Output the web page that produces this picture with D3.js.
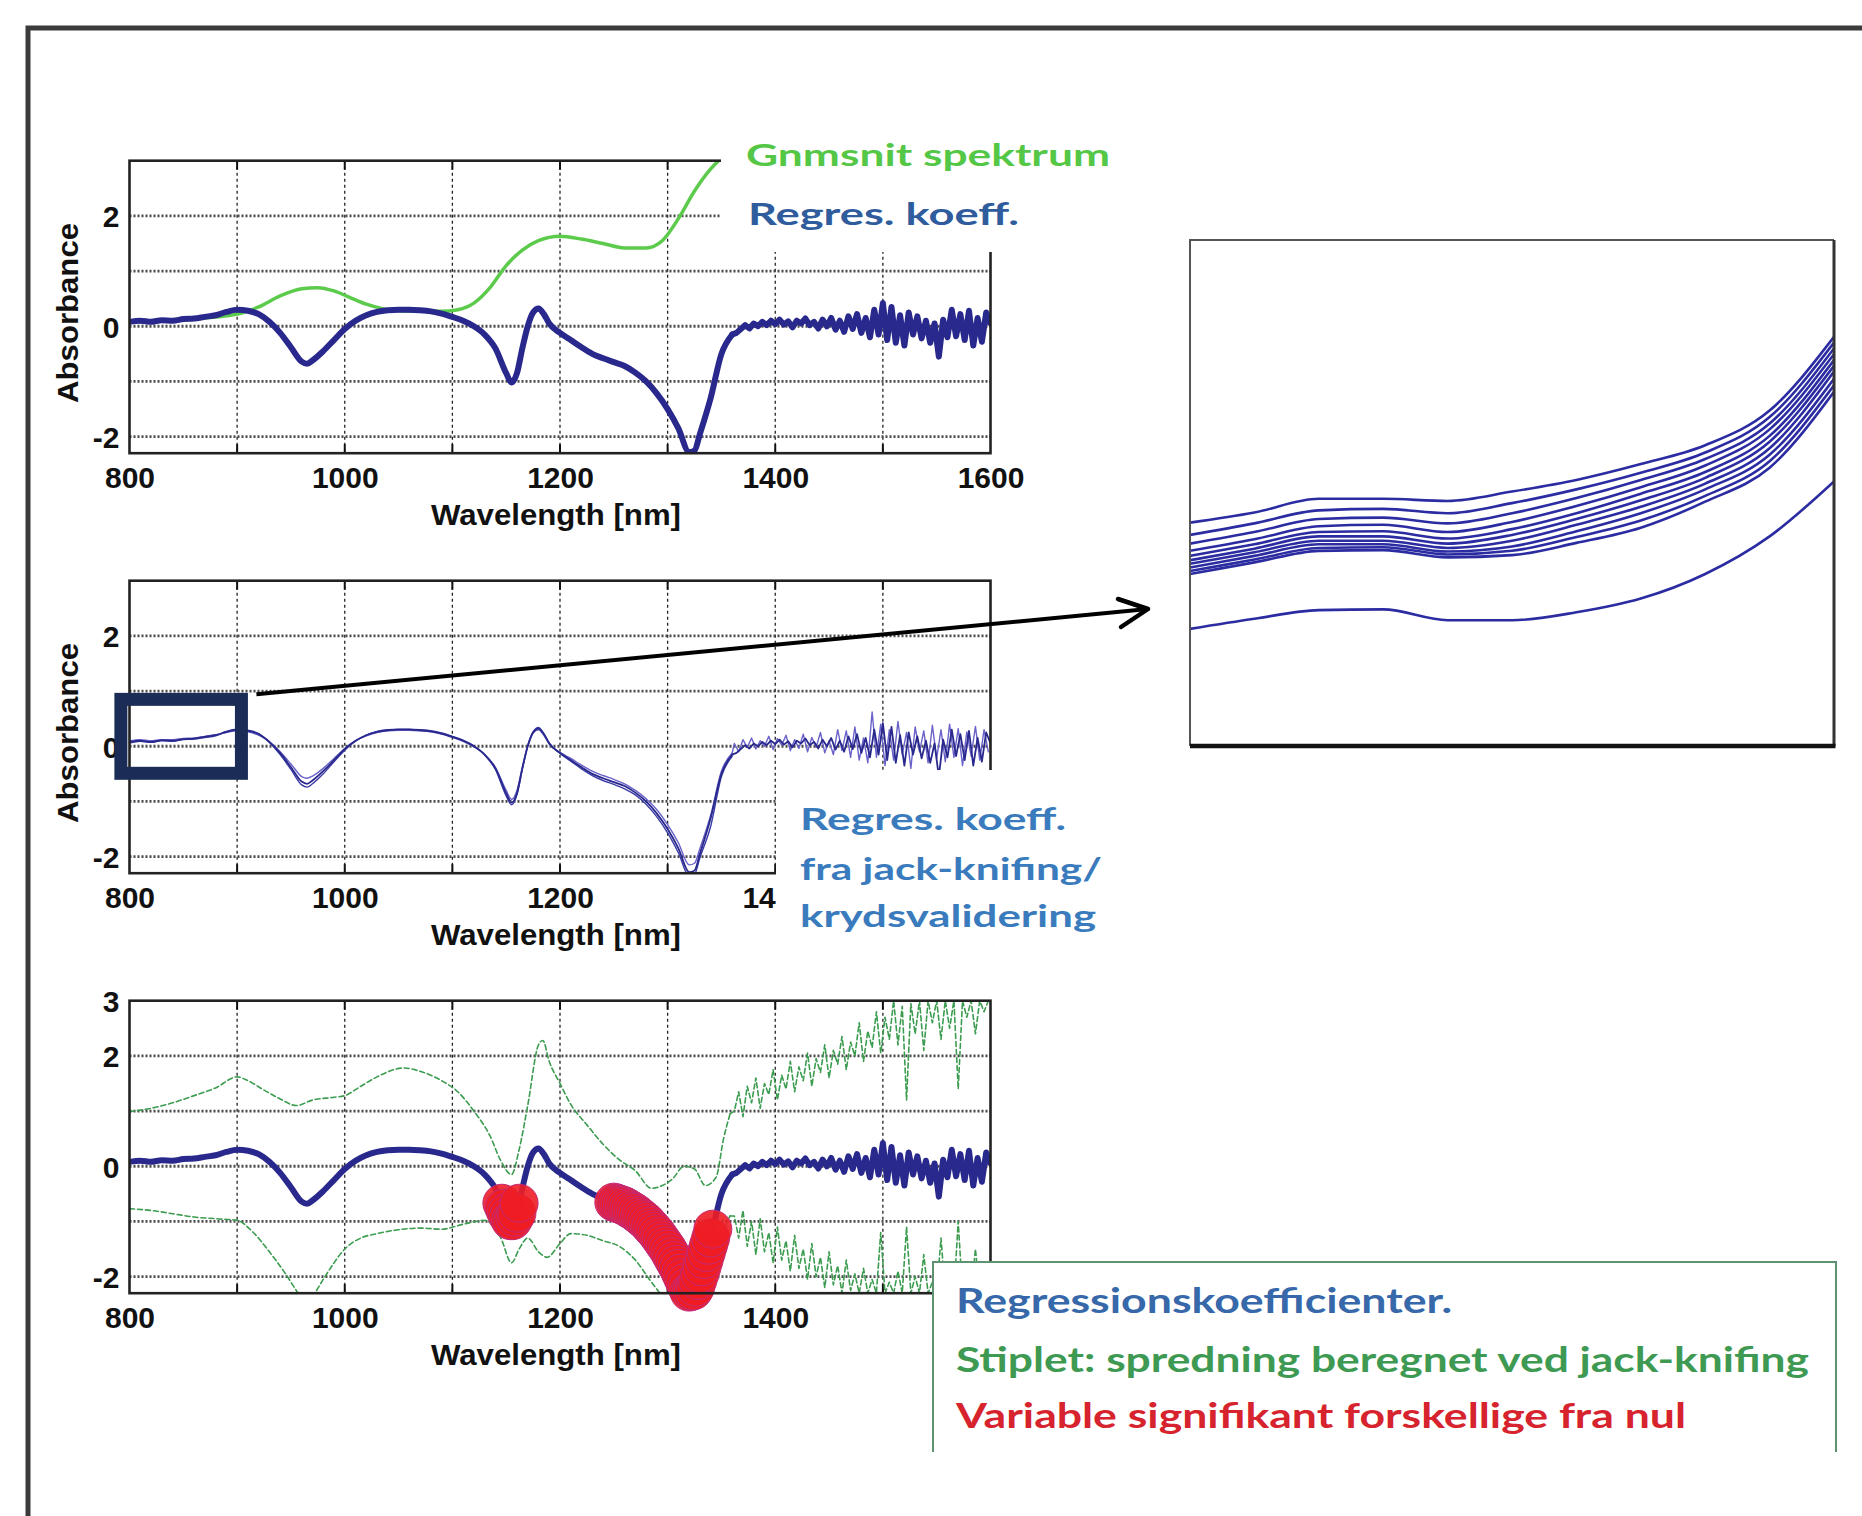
<!DOCTYPE html>
<html><head><meta charset="utf-8">
<script src="https://cdn.jsdelivr.net/npm/d3@7"></script>
<style>body{margin:0;background:#fff}svg{display:block}</style>
</head><body>
<svg id="c" width="1862" height="1516"></svg>
<script>
// ---------------- DATA ----------------
const xTickLabels = [800, 1000, 1200, 1400, 1600];
const xTickLabelsCut = [800, 1000, 1200, 1400];
const yTickLabels = [-2, 0, 2];
const yTickLabels3 = [-2, 0, 2, 3];

// regression coefficients (smooth part)
const wlSmooth = [800,810,820,830,840,850,860,870,880,890,900,910,920,930,940,950,960,965,970,980,990,1000,1010,1020,1030,1040,1050,1060,1070,1080,1090,1100,1110,1120,1130,1140,1150,1155,1160,1165,1170,1175,1180,1185,1190,1200,1210,1220,1230,1240,1250,1260,1270,1280,1290,1300,1310,1320,1325,1330,1340,1350,1360];
const coefSmooth = [0.08,0.10,0.08,0.11,0.10,0.13,0.14,0.17,0.20,0.26,0.30,0.28,0.22,0.08,-0.12,-0.38,-0.64,-0.68,-0.62,-0.45,-0.25,-0.05,0.10,0.20,0.26,0.29,0.30,0.30,0.29,0.27,0.23,0.17,0.10,0.00,-0.15,-0.40,-0.85,-1.02,-0.85,-0.40,0.00,0.25,0.32,0.22,0.05,-0.12,-0.25,-0.38,-0.50,-0.58,-0.65,-0.72,-0.84,-1.00,-1.22,-1.50,-1.85,-2.28,-2.25,-1.95,-1.30,-0.50,-0.15];
// regression coefficients (noisy part, 1364..1600 step 4)
const coefNoise = [-0.12,-0.05,0.02,-0.04,0.05,0.00,0.08,0.02,0.10,0.04,0.12,0.03,0.09,-0.02,0.10,0.05,0.14,0.02,0.08,-0.04,0.12,0.00,0.15,-0.06,0.10,-0.10,0.18,-0.05,0.22,-0.12,0.15,-0.20,0.30,-0.15,0.42,-0.25,0.35,-0.30,0.20,-0.35,0.25,-0.15,0.18,-0.22,0.10,-0.30,0.05,-0.55,0.12,-0.20,0.30,-0.18,0.22,-0.25,0.28,-0.35,0.15,-0.28,0.25,0.05];
// jack-knife variants
const jkASmooth = [0.10,0.12,0.10,0.12,0.12,0.14,0.15,0.18,0.21,0.25,0.28,0.26,0.20,0.08,-0.10,-0.32,-0.55,-0.58,-0.54,-0.40,-0.22,-0.04,0.10,0.19,0.25,0.28,0.29,0.29,0.28,0.26,0.22,0.16,0.09,-0.01,-0.15,-0.38,-0.80,-0.96,-0.80,-0.38,0.00,0.24,0.30,0.20,0.04,-0.11,-0.22,-0.34,-0.45,-0.53,-0.60,-0.68,-0.80,-0.95,-1.15,-1.42,-1.75,-2.15,-2.12,-1.85,-1.25,-0.45,-0.12];
const jkBSmooth = [0.06,0.09,0.07,0.10,0.09,0.12,0.13,0.16,0.19,0.27,0.31,0.29,0.23,0.07,-0.15,-0.42,-0.70,-0.74,-0.68,-0.50,-0.28,-0.07,0.09,0.20,0.27,0.30,0.31,0.31,0.30,0.28,0.24,0.18,0.11,0.01,-0.16,-0.42,-0.90,-1.06,-0.88,-0.42,0.01,0.26,0.34,0.23,0.06,-0.13,-0.27,-0.41,-0.53,-0.62,-0.69,-0.77,-0.88,-1.05,-1.28,-1.57,-1.93,-2.35,-2.32,-2.02,-1.45,-0.55,-0.18];
// jack-knife noisy part (1362..1598 step 4)
const jkNoise = [0.05,-0.10,0.12,-0.02,0.15,-0.05,0.10,0.00,0.18,-0.06,0.14,0.02,0.20,-0.08,0.12,-0.04,0.22,-0.10,0.16,-0.02,0.25,-0.12,0.10,-0.15,0.30,-0.08,0.28,-0.20,0.35,-0.25,0.15,-0.30,0.62,-0.20,0.40,-0.35,0.30,-0.25,0.45,-0.15,0.25,-0.40,0.35,-0.10,0.28,-0.30,0.38,-0.22,0.30,-0.28,0.40,-0.20,0.32,-0.35,0.26,-0.18,0.36,-0.25,0.30,-0.10];

// mean spectrum (green)
const meanWl  = [800,850,900,920,940,960,975,990,1005,1020,1035,1050,1070,1090,1105,1120,1135,1150,1165,1180,1200,1220,1240,1260,1280,1295,1310,1325,1340,1350];
const meanVal = [0.08,0.12,0.22,0.35,0.55,0.68,0.70,0.64,0.52,0.40,0.32,0.28,0.27,0.27,0.30,0.42,0.70,1.10,1.38,1.55,1.63,1.58,1.50,1.42,1.42,1.55,1.95,2.45,2.85,3.05];

// jack-knife spread (green dashed)
const upWl  = [800,820,840,860,880,900,910,925,940,955,970,990,1000,1015,1030,1055,1070,1090,1105,1120,1135,1145,1155,1162,1170,1180,1184,1190,1200,1210,1225,1240,1255,1270,1285,1295,1305,1315,1325,1335,1345,1352,1358];
const upVal = [0.99,1.05,1.15,1.28,1.42,1.62,1.55,1.38,1.22,1.10,1.20,1.25,1.28,1.45,1.62,1.78,1.72,1.55,1.35,1.00,0.55,0.10,-0.15,0.30,1.10,2.20,2.28,1.90,1.50,1.12,0.75,0.40,0.12,-0.08,-0.40,-0.35,-0.22,0.00,-0.05,-0.35,-0.20,0.50,0.95];
const upNoise = [1.00,1.35,0.90,1.45,1.15,1.60,1.05,1.50,1.30,1.75,1.20,1.65,1.40,1.90,1.35,1.80,1.55,2.05,1.45,1.95,1.70,2.20,1.60,2.10,1.85,2.35,1.75,2.25,2.00,2.60,1.90,2.45,2.15,2.80,2.05,2.70,2.30,3.00,2.20,2.90,1.20,2.95,2.40,3.00,2.10,3.00,2.60,3.00,2.30,3.00,2.50,3.00,1.40,3.00,2.70,3.00,2.40,3.00,2.80,3.00];
const lowWl  = [800,820,840,860,880,900,915,930,945,955,962,970,980,990,1000,1015,1030,1050,1070,1090,1110,1130,1145,1155,1162,1170,1180,1188,1200,1210,1225,1240,1255,1270,1285,1300,1315,1330,1345,1352,1358];
const lowVal = [-0.77,-0.80,-0.86,-0.92,-0.95,-0.98,-1.20,-1.55,-1.95,-2.25,-2.45,-2.35,-2.05,-1.75,-1.50,-1.30,-1.22,-1.15,-1.12,-1.14,-1.05,-0.98,-1.30,-1.75,-1.50,-1.30,-1.55,-1.65,-1.40,-1.22,-1.25,-1.35,-1.45,-1.70,-2.10,-2.45,-2.60,-2.50,-1.80,-1.20,-0.90];
const lowNoise = [-0.90,-1.30,-0.80,-1.45,-1.00,-1.60,-0.95,-1.55,-1.20,-1.75,-1.10,-1.70,-1.35,-1.90,-1.25,-1.85,-1.50,-2.05,-1.40,-2.00,-1.65,-2.20,-1.55,-2.15,-1.80,-2.30,-1.70,-2.25,-1.95,-2.30,-1.85,-2.30,-2.05,-2.30,-1.20,-2.30,-2.10,-2.30,-1.90,-2.30,-1.10,-2.30,-2.00,-2.30,-1.60,-2.30,-2.10,-2.30,-1.30,-2.30,-2.00,-2.30,-1.00,-2.30,-1.80,-2.30,-1.50,-2.30,-2.10,-2.30];

// significant variables (wavelength ranges)
const sigRanges = [[1146, 1162], [1250, 1342]];

// zoom box in panel 2 (wavelength, absorbance)
const zoomBoxWl = [792, 904];
const zoomBoxAbs = [-0.49, 0.85];

// inset (zoomed spectra 800-900 nm)
const insetWl = [800,810,820,830,840,850,860,870,880,890,900];
const insetCurves = [
  [0.009,0.023,0.042,0.042,0.039,0.052,0.068,0.090,0.116,0.164,0.266],
  [-0.008,0.008,0.026,0.028,0.022,0.036,0.055,0.078,0.106,0.155,0.258],
  [-0.020,-0.004,0.014,0.016,0.008,0.022,0.043,0.068,0.097,0.146,0.250],
  [-0.030,-0.014,0.004,0.006,-0.004,0.010,0.032,0.058,0.088,0.138,0.242],
  [-0.037,-0.021,-0.004,-0.003,-0.013,0.000,0.022,0.049,0.079,0.129,0.234],
  [-0.043,-0.027,-0.010,-0.010,-0.020,-0.008,0.014,0.040,0.071,0.121,0.226],
  [-0.048,-0.032,-0.016,-0.016,-0.026,-0.016,0.006,0.031,0.063,0.112,0.218],
  [-0.053,-0.037,-0.021,-0.021,-0.031,-0.024,-0.003,0.022,0.055,0.103,0.208],
  [-0.058,-0.042,-0.026,-0.025,-0.035,-0.030,-0.011,0.012,0.046,0.094,0.199],
  [-0.062,-0.046,-0.030,-0.029,-0.039,-0.036,-0.019,0.002,0.038,0.085,0.190],
  [-0.138,-0.124,-0.112,-0.111,-0.126,-0.126,-0.115,-0.096,-0.062,-0.010,0.066]
];

// text
const topLabels = ["Gnmsnit spektrum", "Regres. koeff."];
const midLabels = ["Regres. koeff.", "fra jack-knifing/", "krydsvalidering"];
const legendLabels = ["Regressionskoefficienter.", "Stiplet: spredning beregnet ved jack-knifing", "Variable signifikant forskellige fra nul"];

// ---------------- LAYOUT ----------------
const svg = d3.select('#c');
const PL = 129.5, PR = 990.5, PH = 292.5;
const tops = [160.7, 580.7, 1000.7];
const x = d3.scaleLinear().domain([800, 1600]).range([PL, PR]);
const yOf = top => d3.scaleLinear().domain([-2.3, 3]).range([top + PH, top]);
const NAVY = '#29288c';
const TICKFONT = "'Liberation Sans', Arial, sans-serif";
const TXTFONT = "Lato, 'Open Sans', sans-serif";

const zipArr = (a, b) => a.map((v, i) => [v, b[i]]);
const noiseWl1 = d3.range(1364, 1601, 4);
const noiseWl2 = d3.range(1362, 1600, 4);
const series = {
  coef: [zipArr(wlSmooth, coefSmooth), zipArr(noiseWl1, coefNoise)],
  jkA: [zipArr(wlSmooth, jkASmooth), zipArr(noiseWl2, jkNoise)],
  jkB: [zipArr(wlSmooth, jkBSmooth), []],
  mean: [zipArr(meanWl, meanVal), []],
  up: [zipArr(upWl, upVal), zipArr(noiseWl2, upNoise)],
  low: [zipArr(lowWl, lowVal), zipArr(noiseWl2, lowNoise)]
};

// outer frame
svg.append('rect').attr('x', 28).attr('y', 28).attr('width', 1900).attr('height', 1600)
  .attr('fill', '#fff').attr('stroke', '#3b3b3b').attr('stroke-width', 5);

const defs = svg.append('defs');

function drawSeries(p, key, style) {
  const [sm, nz] = series[key];
  const ls = d3.line().x(d => x(d[0])).y(d => p.y(d[1])).curve(d3.curveMonotoneX);
  const ln = d3.line().x(d => x(d[0])).y(d => p.y(d[1]));
  const paths = [ls(sm)];
  if (nz.length) paths.push(ln([sm[sm.length - 1]].concat(nz)));
  paths.forEach(d => {
    const el = p.data.append('path').attr('d', d).attr('fill', 'none')
      .attr('stroke-linejoin', 'round').attr('stroke-linecap', 'round');
    Object.entries(style).forEach(([k, v]) => el.attr(k, v));
  });
}

function panel(i, yTicks, xLabels, withYLabel, labelClipX) {
  const top = tops[i];
  const y = yOf(top);
  const g = svg.append('g');
  defs.append('clipPath').attr('id', 'clip' + i).append('rect')
    .attr('x', PL).attr('y', top).attr('width', PR - PL).attr('height', PH);
  // grid
  const gx = d3.range(900, 1600, 100);
  g.selectAll('.vg').data(gx).join('line')
    .attr('x1', d => x(d)).attr('x2', d => x(d)).attr('y1', top).attr('y2', top + PH)
    .attr('stroke', '#222').attr('stroke-width', 1.3).attr('stroke-dasharray', '3,3');
  g.selectAll('.hg').data([-2, -1, 0, 1, 2]).join('line')
    .attr('x1', PL).attr('x2', PR).attr('y1', d => y(d)).attr('y2', d => y(d))
    .attr('stroke', '#4a4a4a').attr('stroke-width', 2.8).attr('stroke-dasharray', '2,2');
  // inner ticks
  g.selectAll('.tb').data(gx).join('line')
    .attr('x1', d => x(d)).attr('x2', d => x(d)).attr('y1', top + PH).attr('y2', top + PH - 9)
    .attr('stroke', '#111').attr('stroke-width', 2);
  g.selectAll('.tt').data(gx).join('line')
    .attr('x1', d => x(d)).attr('x2', d => x(d)).attr('y1', top).attr('y2', top + 9)
    .attr('stroke', '#111').attr('stroke-width', 2);
  // axes labels via d3 axes
  const xa = d3.axisBottom(x).tickValues(xLabels).tickSizeInner(0).tickSizeOuter(0).tickPadding(14).tickFormat(d => String(d));
  const ax = g.append('g').attr('transform', `translate(0,${top + PH})`).call(xa);
  ax.select('.domain').remove();
  ax.selectAll('text').attr('font-family', TICKFONT).attr('font-weight', 'bold').attr('font-size', 30).attr('fill', '#111');
  if (labelClipX) {
    defs.append('clipPath').attr('id', 'lclip' + i).append('rect')
      .attr('x', 0).attr('y', top + PH).attr('width', labelClipX).attr('height', 60);
    ax.attr('clip-path', null);
    ax.selectAll('.tick').attr('clip-path', null);
    const wrap = g.append('g').attr('clip-path', `url(#lclip${i})`);
    wrap.node().appendChild(ax.node());
  }
  const ya = d3.axisLeft(y).tickValues(yTicks).tickSizeInner(0).tickSizeOuter(0).tickPadding(10).tickFormat(d => String(d));
  const ay = g.append('g').attr('transform', `translate(${PL},0)`).call(ya);
  ay.select('.domain').remove();
  ay.selectAll('text').attr('font-family', TICKFONT).attr('font-weight', 'bold').attr('font-size', 30).attr('fill', '#111').attr('dy', '0.36em');
  g.append('text').attr('x', (PL + PR) / 2 - 4).attr('y', top + PH + 72)
    .attr('text-anchor', 'middle').attr('font-family', TICKFONT).attr('font-weight', 'bold')
    .attr('font-size', 29).attr('textLength', 250).attr('lengthAdjust', 'spacingAndGlyphs')
    .attr('fill', '#111').text('Wavelength [nm]');
  if (withYLabel) {
    g.append('text').attr('transform', `translate(78,${top + PH / 2 + 6}) rotate(-90)`)
      .attr('text-anchor', 'middle').attr('font-family', TICKFONT).attr('font-weight', 'bold')
      .attr('font-size', 29).attr('textLength', 180).attr('lengthAdjust', 'spacingAndGlyphs')
      .attr('fill', '#111').text('Absorbance');
  }
  const data = g.append('g').attr('clip-path', `url(#clip${i})`);
  return { g, y, data, top };
}

function box(p) {
  p.g.append('rect').attr('x', PL).attr('y', p.top).attr('width', PR - PL).attr('height', PH)
    .attr('fill', 'none').attr('stroke', '#222').attr('stroke-width', 2.6);
}

// ---- Panel 1 ----
const p1 = panel(0, yTickLabels, xTickLabels, true, null);
drawSeries(p1, 'mean', { stroke: '#5ccb4c', 'stroke-width': 3.5 });
drawSeries(p1, 'coef', { stroke: NAVY, 'stroke-width': 6 });
box(p1);
svg.append('rect').attr('x', 721).attr('y', 135).attr('width', 420).attr('height', 117).attr('fill', '#fff');
svg.append('text').attr('x', 746).attr('y', 166).attr('font-family', TXTFONT).attr('font-weight', 700)
  .attr('font-size', 30).attr('fill', '#55c746').attr('textLength', 364).attr('lengthAdjust', 'spacingAndGlyphs').text(topLabels[0]);
svg.append('text').attr('x', 748).attr('y', 225).attr('font-family', TXTFONT).attr('font-weight', 700)
  .attr('font-size', 30).attr('fill', '#2f5c9c').attr('textLength', 271).attr('lengthAdjust', 'spacingAndGlyphs').text(topLabels[1]);

// ---- Panel 2 ----
const p2 = panel(1, yTickLabels, xTickLabelsCut, true, 777);
drawSeries(p2, 'jkB', { stroke: '#3b3ba6', 'stroke-width': 1.4 });
drawSeries(p2, 'jkA', { stroke: '#6a62c9', 'stroke-width': 1.4 });
drawSeries(p2, 'coef', { stroke: NAVY, 'stroke-width': 1.8 });
box(p2);
svg.append('rect').attr('x', 776).attr('y', 770).attr('width', 380).attr('height', 185).attr('fill', '#fff');
const midBase = [830, 880, 927], midLen = [266, 302, 296];
midLabels.forEach((t, k) => {
  svg.append('text').attr('x', 800).attr('y', midBase[k]).attr('font-family', TXTFONT).attr('font-weight', 700)
    .attr('font-size', 30).attr('fill', '#3a7bbd').attr('textLength', midLen[k]).attr('lengthAdjust', 'spacingAndGlyphs').text(t);
});
// zoom box
const bx0 = x(zoomBoxWl[0]), bx1 = x(zoomBoxWl[1]), by0 = p2.y(zoomBoxAbs[1]), by1 = p2.y(zoomBoxAbs[0]);
svg.append('rect').attr('x', bx0).attr('y', by0).attr('width', bx1 - bx0).attr('height', by1 - by0)
  .attr('fill', 'none').attr('stroke', '#1b2d56').attr('stroke-width', 13);

// ---- Inset ----
const IX0 = 1190, IX1 = 1834, IY0 = 240, IY1 = 746;
const xi = d3.scaleLinear().domain([800, 900]).range([IX0, IX1]);
const yi = d3.scaleLinear().domain([-0.3, 0.4]).range([IY1, IY0]);
defs.append('clipPath').attr('id', 'clipI').append('rect').attr('x', IX0).attr('y', IY0).attr('width', IX1 - IX0).attr('height', IY1 - IY0);
const li = d3.line().x((d, k) => xi(insetWl[k])).y(d => yi(d)).curve(d3.curveMonotoneX);
svg.append('g').attr('clip-path', 'url(#clipI)').selectAll('path').data(insetCurves).join('path')
  .attr('d', d => li(d)).attr('fill', 'none').attr('stroke', '#2c2ca2').attr('stroke-width', 2.6);
svg.append('path').attr('d', `M${IX0},${IY1}V${IY0}H${IX1}`).attr('fill', 'none').attr('stroke', '#555').attr('stroke-width', 2);
svg.append('line').attr('x1', IX1).attr('x2', IX1).attr('y1', IY0).attr('y2', IY1).attr('stroke', '#333').attr('stroke-width', 3);
svg.append('line').attr('x1', IX0).attr('x2', IX1 + 1.5).attr('y1', IY1).attr('y2', IY1).attr('stroke', '#111').attr('stroke-width', 4.5);

// arrow
const ax0 = bx1 + 15, ay0 = by0 - 5, ax1 = IX0 - 42, ay1 = 609;
svg.append('line').attr('x1', ax0).attr('y1', ay0).attr('x2', ax1).attr('y2', ay1).attr('stroke', '#000').attr('stroke-width', 4);
svg.append('path').attr('d', `M${ax1 - 30},${ay1 - 10}L${ax1},${ay1}L${ax1 - 27},${ay1 + 18}`)
  .attr('fill', 'none').attr('stroke', '#000').attr('stroke-width', 4.5).attr('stroke-linejoin', 'round').attr('stroke-linecap', 'round');

// ---- Panel 3 ----
const p3 = panel(2, yTickLabels3, xTickLabelsCut, false, null);
drawSeries(p3, 'up', { stroke: '#3c9c50', 'stroke-width': 1.6, 'stroke-dasharray': '5,3' });
drawSeries(p3, 'low', { stroke: '#3c9c50', 'stroke-width': 1.6, 'stroke-dasharray': '5,3' });
drawSeries(p3, 'coef', { stroke: NAVY, 'stroke-width': 6 });
const interp = w => {
  const i = d3.bisectLeft(wlSmooth, w);
  if (wlSmooth[i] === w) return coefSmooth[i];
  const t = (w - wlSmooth[i - 1]) / (wlSmooth[i] - wlSmooth[i - 1]);
  return coefSmooth[i - 1] + t * (coefSmooth[i] - coefSmooth[i - 1]);
};
const sigPts = sigRanges.flatMap(r => d3.range(r[0], r[1] + 0.1, 2).map(w => [w, interp(w)]));
p3.g.append('g').selectAll('circle').data(sigPts).join('circle')
  .attr('cx', d => x(d[0])).attr('cy', d => p3.y(d[1])).attr('r', 19)
  .attr('fill', '#ee1d25').attr('fill-opacity', 0.9).attr('stroke', '#c42a78').attr('stroke-width', 1);
box(p3);

// legend
svg.append('rect').attr('x', 933).attr('y', 1262).attr('width', 903).attr('height', 260).attr('fill', '#fff');
svg.append('path').attr('d', 'M933,1452V1262H1836V1452').attr('fill', 'none').attr('stroke', '#5e9270').attr('stroke-width', 2);
const legBase = [1313, 1372, 1428], legLen = [496, 853, 730], legCol = ['#3668aa', '#3e9a52', '#d6232e'];
legendLabels.forEach((t, k) => {
  svg.append('text').attr('x', 956).attr('y', legBase[k]).attr('font-family', TXTFONT).attr('font-weight', 700)
    .attr('font-size', 35).attr('fill', legCol[k]).attr('textLength', legLen[k]).attr('lengthAdjust', 'spacingAndGlyphs').text(t);
});
</script>
</body></html>
